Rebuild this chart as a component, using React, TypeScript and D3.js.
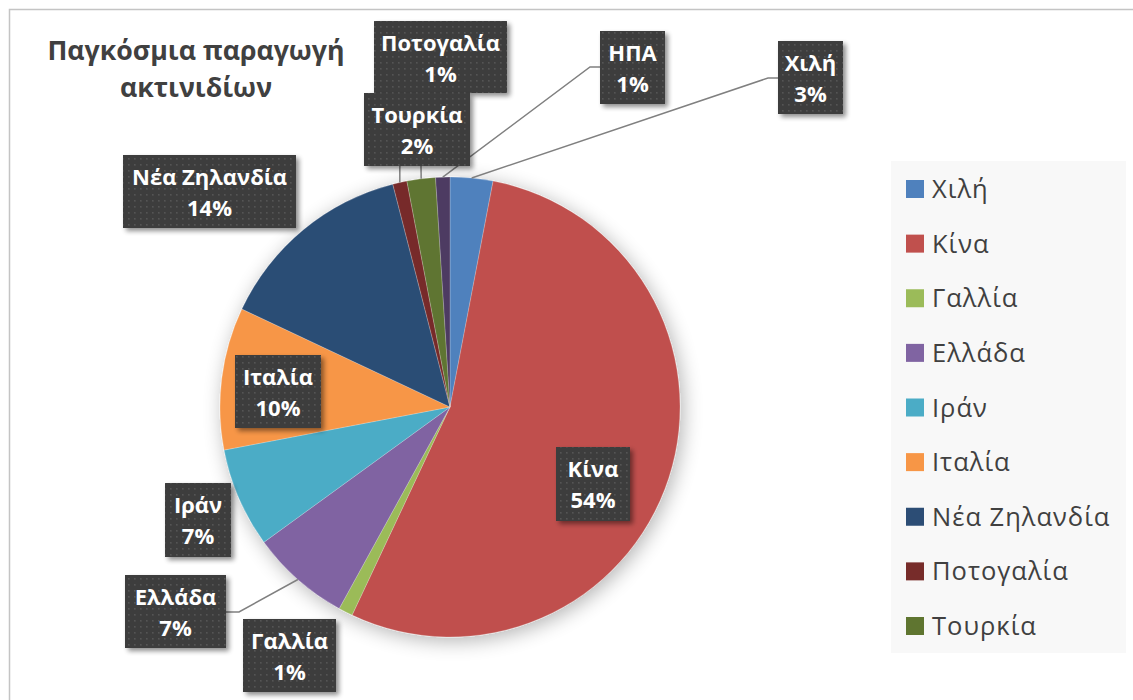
import React from "react";
import * as d3 from "d3";

const countries = ["Χιλή", "Κίνα", "Γαλλία", "Ελλάδα", "Ιράν", "Ιταλία", "Νέα Ζηλανδία", "Ποτογαλία", "Τουρκία", "ΗΠΑ"];
const shares = [3, 54, 1, 7, 7, 10, 14, 1, 2, 1];
const colors = ["#4F81BD", "#C0504D", "#9BBB59", "#8064A2", "#4BACC6", "#F79646", "#2C4D75", "#772C2A", "#5F7530", "#4D3B62"];
const legendItems = ["Χιλή", "Κίνα", "Γαλλία", "Ελλάδα", "Ιράν", "Ιταλία", "Νέα Ζηλανδία", "Ποτογαλία", "Τουρκία"];
const titleLines = ["Παγκόσμια παραγωγή", "ακτινιδίων"];

// layout of manually placed data labels (box x, y, w, h, optional leader elbow/attach)
type Box = { x: number; y: number; w: number; h: number; leader?: [number, number][] };
const labelLayout: Record<string, Box> = {
  "Χιλή": { x: 778, y: 41, w: 65, h: 73, leader: [[768, 78], [778, 78]] },
  "Κίνα": { x: 556, y: 447, w: 74, h: 74 },
  "Γαλλία": { x: 243, y: 619, w: 93, h: 73 },
  "Ελλάδα": { x: 125, y: 575, w: 101, h: 73, leader: [[239, 612], [226, 612]] },
  "Ιράν": { x: 165, y: 483, w: 66, h: 74 },
  "Ιταλία": { x: 235, y: 355, w: 86, h: 73 },
  "Νέα Ζηλανδία": { x: 123, y: 155, w: 173, h: 73 },
  "Ποτογαλία": { x: 374, y: 21, w: 133, h: 72, leader: [[400, 93]] },
  "Τουρκία": { x: 364, y: 93, w: 106, h: 73, leader: [[421, 166]] },
  "ΗΠΑ": { x: 600, y: 31, w: 65, h: 73, leader: [[590, 67], [600, 67]] },
};
const labelOrder = ["Κίνα", "Γαλλία", "Ελλάδα", "Ιράν", "Ιταλία", "Νέα Ζηλανδία", "Ποτογαλία", "Τουρκία", "ΗΠΑ", "Χιλή"];

const W = 1133, H = 700;
const cx = 450, cy = 407, R = 230;
const FONT = "'Open Sans', 'Noto Sans', sans-serif";

export default function App() {
  const data = countries.map((c, i) => ({ name: c, value: shares[i], color: colors[i] }));
  const pie = d3.pie<any>().sort(null).value((d) => d.value).startAngle(0).endAngle(2 * Math.PI);
  const arcs = pie(data);
  const arcGen = d3.arc<any>().innerRadius(0).outerRadius(R);
  const total = d3.sum(shares);
  const fmt = (v: number) => `${Math.round((v / total) * 100)}%`;
  const byName: Record<string, any> = {};
  arcs.forEach((a) => (byName[a.data.name] = a));

  const edgePoint = (a: any) => {
    const m = (a.startAngle + a.endAngle) / 2;
    return [cx + R * Math.sin(m), cy - R * Math.cos(m)] as [number, number];
  };

  const legendY = d3.scalePoint<string>().domain(legendItems).range([189, 626]);

  return (
    <svg width={W} height={H} style={{ position: "absolute", left: 0, top: 0, background: "#fff" }} fontFamily={FONT}>
      <defs>
        <filter id="pieShadow" x="-30%" y="-30%" width="160%" height="160%">
          <feGaussianBlur in="SourceAlpha" stdDeviation="10" />
          <feOffset dx="3" dy="4" result="b" />
          <feComponentTransfer>
            <feFuncA type="linear" slope="0.3" />
          </feComponentTransfer>
          <feMerge>
            <feMergeNode />
            <feMergeNode in="SourceGraphic" />
          </feMerge>
        </filter>
        <filter id="boxShadow" x="-20%" y="-20%" width="150%" height="150%">
          <feGaussianBlur in="SourceAlpha" stdDeviation="2.5" />
          <feOffset dx="3" dy="3" />
          <feComponentTransfer>
            <feFuncA type="linear" slope="0.45" />
          </feComponentTransfer>
          <feMerge>
            <feMergeNode />
            <feMergeNode in="SourceGraphic" />
          </feMerge>
        </filter>
        <pattern id="dots" width="6" height="6" patternUnits="userSpaceOnUse">
          <rect width="6" height="6" fill="#3d3d3d" />
          <rect x="2" y="2" width="1.6" height="1.6" fill="#555" />
        </pattern>
      </defs>

      <rect x={9.5} y={9.5} width={W + 20} height={H + 20} fill="#fff" stroke="#c4c4c4" strokeWidth={1.5} />

      <g fontWeight={700} fill="#404040" fontSize={26.7} textAnchor="middle">
        {titleLines.map((t, i) => (
          <text key={t} x={196} y={60 + i * 37}>{t}</text>
        ))}
      </g>

      <g filter="url(#pieShadow)">
        <g transform={`translate(${cx},${cy})`}>
          {arcs.map((a) => (
            <path key={a.data.name} d={arcGen(a) as string} fill={a.data.color} stroke="#ffffff" strokeOpacity={0.35} strokeWidth={0.6} />
          ))}
        </g>
      </g>

      <g stroke="#808080" strokeWidth={1.5} fill="none">
        {labelOrder.map((n) => {
          const L = labelLayout[n];
          if (!L.leader) return null;
          const pts = [edgePoint(byName[n]), ...L.leader];
          return <polyline key={n} points={pts.map((p) => p.join(",")).join(" ")} />;
        })}
      </g>

      {labelOrder.map((n) => {
        const L = labelLayout[n];
        const a = byName[n];
        return (
          <g key={n}>
            <rect x={L.x} y={L.y} width={L.w} height={L.h} fill="url(#dots)" filter="url(#boxShadow)" />
            <text x={L.x + L.w / 2} y={L.y + 30} textAnchor="middle" fill="#fff" fontWeight={700} fontSize={22}>{n}</text>
            <text x={L.x + L.w / 2} y={L.y + 61} textAnchor="middle" fill="#fff" fontWeight={700} fontSize={22}>{fmt(a.data.value)}</text>
          </g>
        );
      })}

      <rect x={891} y={161} width={235} height={492} fill="#f8f8f8" />
      {legendItems.map((n) => {
        const i = countries.indexOf(n);
        const y = legendY(n) as number;
        return (
          <g key={n}>
            <rect x={906} y={y - 9} width={18} height={18} fill={colors[i]} />
            <text x={932} y={y + 9} fontSize={25.5} letterSpacing={1} fill="#404040">{n}</text>
          </g>
        );
      })}
    </svg>
  );
}
